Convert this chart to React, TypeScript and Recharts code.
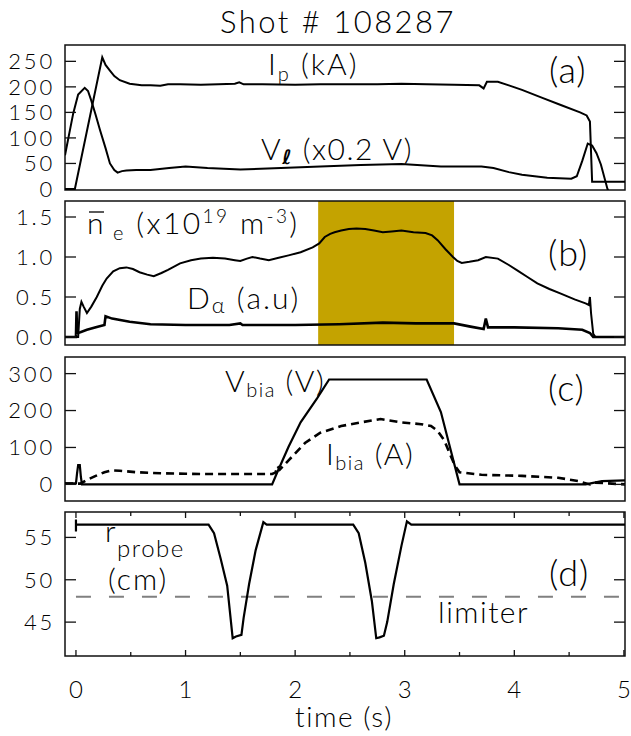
import React from 'react';
import { LineChart, Line, XAxis, YAxis, ReferenceArea, ReferenceLine } from 'recharts';

// ---------- data ----------
const TIME_DOMAIN: [number, number] = [-0.1, 5.01];
const TIME_TICKS = [0, 0.5, 1, 1.5, 2, 2.5, 3, 3.5, 4, 4.5, 5];

// (a) plasma current Ip (kA)
const IP_T = [-0.1, -0.01, 0.24, 0.27, 0.31, 0.35, 0.4, 0.49, 0.6, 0.68, 0.77, 0.84, 0.95, 1.14, 1.3, 1.45, 1.49, 1.53, 1.7, 2.0, 2.23, 2.5, 2.75, 2.97, 3.2, 3.45, 3.68, 3.72, 3.75, 3.85, 3.95, 4.07, 4.25, 4.43, 4.6, 4.66, 4.69, 4.71, 4.85, 5.01];
const IP_KA = [0, 0, 258, 243, 232, 221, 213, 206, 203, 203, 202, 205, 205, 204, 205, 206, 209, 205, 205, 204, 205, 205, 205, 206, 205, 204, 203, 197, 210, 210, 203, 194, 179, 164, 150, 144, 132, 14, 14, 14];

// (a) loop voltage Vl (x0.2 V)
const VL_T = [-0.1, -0.06, -0.025, 0.02, 0.08, 0.11, 0.14, 0.18, 0.22, 0.27, 0.31, 0.35, 0.38, 0.42, 0.46, 0.55, 0.68, 0.85, 1.0, 1.2, 1.5, 1.87, 2.23, 2.6, 2.97, 3.33, 3.7, 3.81, 3.95, 4.07, 4.3, 4.52, 4.57, 4.62, 4.67, 4.71, 4.75, 4.79, 4.85, 4.92];
const VL_V = [66, 110, 148, 185, 198, 192, 173, 145, 115, 80, 50, 37, 32, 35, 36, 37, 37, 41, 44, 41, 38, 41, 44, 47, 49, 44, 44, 41, 33, 28, 22, 20, 25, 55, 89, 85, 70, 48, 0, -30];

// (b) line-averaged density (x10^19 m^-3)
const NE_T = [-0.1, 0.02, 0.035, 0.05, 0.07, 0.1, 0.14, 0.19, 0.24, 0.28, 0.34, 0.4, 0.46, 0.52, 0.58, 0.65, 0.71, 0.78, 0.84, 0.95, 1.05, 1.14, 1.25, 1.36, 1.45, 1.5, 1.56, 1.61, 1.68, 1.76, 1.85, 1.94, 2.05, 2.16, 2.22, 2.27, 2.32, 2.36, 2.42, 2.49, 2.56, 2.64, 2.72, 2.8, 2.88, 2.97, 3.08, 3.19, 3.25, 3.3, 3.37, 3.44, 3.48, 3.52, 3.59, 3.67, 3.74, 3.85, 3.95, 4.03, 4.12, 4.21, 4.32, 4.43, 4.55, 4.65, 4.68, 4.69, 4.7, 4.72, 4.74, 5.01];
const NE_V = [0, 0, 0.35, 0.44, 0.38, 0.3, 0.38, 0.5, 0.64, 0.73, 0.82, 0.86, 0.87, 0.85, 0.81, 0.78, 0.76, 0.8, 0.84, 0.92, 0.96, 0.98, 0.99, 0.98, 0.96, 0.95, 0.98, 1.0, 0.98, 0.96, 0.99, 1.02, 1.06, 1.12, 1.17, 1.25, 1.29, 1.31, 1.33, 1.35, 1.355, 1.35, 1.33, 1.31, 1.32, 1.33, 1.31, 1.3, 1.27, 1.21, 1.1, 1.0, 0.95, 0.925, 0.94, 0.96, 1.0, 0.98, 0.9, 0.83, 0.75, 0.67, 0.6, 0.54, 0.47, 0.42, 0.4, 0.5, 0.3, 0.04, 0, 0];

// (b) D-alpha (a.u)
const DA_T = [-0.1, 0.0, 0.005, 0.01, 0.04, 0.1, 0.19, 0.26, 0.27, 0.33, 0.49, 0.68, 1.0, 1.4, 1.5, 1.52, 2.0, 2.4, 2.8, 3.1, 3.45, 3.6, 3.72, 3.74, 3.76, 4.0, 4.4, 4.62, 4.69, 4.72, 5.01];
const DA_V = [0, 0, 0.32, 0.05, 0.06, 0.09, 0.125, 0.15, 0.26, 0.23, 0.19, 0.16, 0.15, 0.15, 0.17, 0.15, 0.15, 0.16, 0.18, 0.17, 0.17, 0.13, 0.1, 0.23, 0.12, 0.12, 0.11, 0.09, 0.05, 0, 0];

// biasing window (shaded)
const BIAS_WINDOW: [number, number] = [2.21, 3.45];

// (c) bias voltage (V)
const VBIA_T = [-0.1, 0.0, 0.01, 0.02, 0.035, 0.045, 0.055, 1.79, 1.83, 1.94, 2.05, 2.2, 2.31, 3.2, 3.33, 3.5, 4.65, 4.8, 5.01];
const VBIA_V = [3, 3, 30, 52, 52, 20, 0, 0, 28, 102, 168, 233, 284, 284, 196, 0, 0, 9, 11];

// (c) bias current (A)
const IBIA_T = [-0.1, 0.04, 0.1, 0.18, 0.26, 0.33, 0.4, 0.55, 0.77, 1.0, 1.14, 1.5, 1.79, 1.82, 1.84, 1.86, 1.94, 2.09, 2.23, 2.42, 2.6, 2.78, 2.97, 3.15, 3.24, 3.3, 3.36, 3.41, 3.46, 3.5, 3.7, 4.07, 4.4, 4.58, 4.69, 4.73, 5.01];
const IBIA_V = [2, 2, 12, 23, 33, 38, 37, 33, 30, 29, 28, 28, 28, 32, 50, 40, 65, 112, 140, 158, 168, 177, 168, 163, 158, 145, 120, 84, 50, 33, 26, 23, 18, 9, 0, 5, 0];

// (d) probe radius (cm)
const RP_T = [0, 0, 0, 1.21, 1.26, 1.32, 1.38, 1.43, 1.46, 1.51, 1.53, 1.58, 1.64, 1.71, 1.74, 2.53, 2.58, 2.64, 2.7, 2.74, 2.77, 2.81, 2.84, 2.9, 2.97, 3.02, 3.06, 5.01];
const RP_CM = [57.1, 55.7, 56.5, 56.5, 55.5, 52.5, 49.3, 43.1, 43.3, 43.5, 45.5, 49.5, 53.5, 56.8, 56.5, 56.5, 55.5, 52.0, 47.5, 43.1, 43.2, 43.4, 45.0, 49.5, 54.0, 56.9, 56.5, 56.5];
const LIMITER_CM = 48;

const zip = (ts: number[], vs: number[]) => ts.map((t, i) => ({ t, v: vs[i] }));

// ---------- styling ----------
const FONT = "Lato, 'DejaVu Sans', sans-serif";
const W = 631;
const PLOT_RIGHT = 625;
const YAXIS_W = 65;
const M = 14;
const INK = '#111';

const yTick = (fmt: (v: number) => string, zeroLift = 0, skipZeroLine = false) => (props: any) => {
  const { x, y, payload } = props;
  const v = payload.value as number;
  const drawLine = !(skipZeroLine && v === 0);
  return (
    <g>
      {drawLine && <line x1={x} x2={x + 11} y1={y} y2={y} stroke={INK} strokeWidth={1.3} />}
      {drawLine && <line x1={PLOT_RIGHT - 11} x2={PLOT_RIGHT} y1={y} y2={y} stroke={INK} strokeWidth={1.3} />}
      <text x={x - 10} y={y - (v === 0 ? zeroLift : 0)} dy="0.36em" textAnchor="end" fontFamily={FONT} fontWeight={300} fontSize={22} letterSpacing={2.8} fill="#000">
        {fmt(v)}
      </text>
    </g>
  );
};

const xTick = (showLabels: boolean) => (props: any) => {
  const { x, y, payload } = props;
  const v = payload.value as number;
  const major = Number.isInteger(v);
  const len = major ? 6 : 4;
  return (
    <g>
      <line x1={x} x2={x} y1={y} y2={y - len} stroke={INK} strokeWidth={1.3} />
      <line x1={x} x2={x} y1={M} y2={M + len} stroke={INK} strokeWidth={1.3} />
      {showLabels && major && (
        <text x={x} y={y + 33} dy="0.36em" textAnchor="middle" fontFamily={FONT} fontWeight={300} fontSize={24} fill="#000">
          {v}
        </text>
      )}
    </g>
  );
};

type PanelProps = {
  top: number;
  plotH: number;
  yDomain: [number, number];
  yTicks: number[];
  fmt: (v: number) => string;
  zeroLift?: number;
  skipZeroLine?: boolean;
  bottomAxis?: boolean;
  children?: React.ReactNode;
};

const Panel = ({ top, plotH, yDomain, yTicks, fmt, zeroLift = 0, skipZeroLine = false, bottomAxis = false, children }: PanelProps) => {
  const xh = bottomAxis ? 50 : 0;
  const h = plotH + 2 * M + xh;
  return (
    <div style={{ position: 'absolute', left: 0, top: top - M, width: W, height: h }}>
      <LineChart width={W} height={h} margin={{ top: M, right: W - PLOT_RIGHT, bottom: M, left: 0 }}>
        <XAxis
          type="number"
          dataKey="t"
          domain={TIME_DOMAIN}
          allowDataOverflow
          ticks={TIME_TICKS}
          interval={0}
          height={xh}
          axisLine={false}
          tickLine={false}
          tickSize={0}
          tickMargin={0}
          tick={xTick(bottomAxis)}
        />
        <YAxis
          type="number"
          domain={yDomain}
          allowDataOverflow
          ticks={yTicks}
          interval={0}
          width={YAXIS_W}
          axisLine={false}
          tickLine={false}
          tickSize={0}
          tickMargin={0}
          tick={yTick(fmt, zeroLift, skipZeroLine)}
        />
        {children}
        <ReferenceArea
          x1={TIME_DOMAIN[0]}
          x2={TIME_DOMAIN[1]}
          y1={yDomain[0]}
          y2={yDomain[1]}
          fill="none"
          stroke={INK}
          strokeWidth={1.5}
          ifOverflow="visible"
        />
      </LineChart>
    </div>
  );
};

const lineProps = {
  type: 'linear' as const,
  dataKey: 'v',
  dot: false,
  isAnimationActive: false,
  stroke: '#000',
  strokeWidth: 2,
};

const TXT = { fontFamily: FONT, fontWeight: 300, fill: '#000' } as const;

export default function App() {
  return (
    <div style={{ position: 'absolute', left: 0, top: 0, width: W, height: 736, background: '#fff', overflow: 'hidden' }}>
      {/* (a) */}
      <Panel top={45} plotH={145} yDomain={[-2, 282]} yTicks={[0, 50, 100, 150, 200, 250]} fmt={(v) => String(v)} zeroLift={0} skipZeroLine>
        <Line {...lineProps} data={zip(VL_T, VL_V)} />
        <Line {...lineProps} data={zip(IP_T, IP_KA)} />
      </Panel>

      {/* (b) */}
      <Panel top={201} plotH={144} yDomain={[-0.1, 1.7]} yTicks={[0, 0.5, 1, 1.5]} fmt={(v) => v.toFixed(1)}>
        <ReferenceArea x1={BIAS_WINDOW[0]} x2={BIAS_WINDOW[1]} y1={-0.1} y2={1.7} fill="#C4A300" fillOpacity={1} stroke="none" />
        <Line {...lineProps} data={zip(DA_T, DA_V)} strokeWidth={2.6} />
        <Line {...lineProps} data={zip(NE_T, NE_V)} />
      </Panel>

      {/* (c) */}
      <Panel top={357} plotH={144} yDomain={[-45, 345]} yTicks={[0, 100, 200, 300]} fmt={(v) => String(v)}>
        <Line {...lineProps} data={zip(IBIA_T, IBIA_V)} strokeWidth={2.6} strokeDasharray="8 5" />
        <Line {...lineProps} data={zip(VBIA_T, VBIA_V)} strokeWidth={2.2} />
      </Panel>

      {/* (d) */}
      <Panel top={512} plotH={144} yDomain={[41, 58]} yTicks={[45, 50, 55]} fmt={(v) => String(v)} bottomAxis>
        <ReferenceLine
          segment={[{ x: 0, y: LIMITER_CM }, { x: TIME_DOMAIN[1], y: LIMITER_CM }]}
          stroke="#808080"
          strokeWidth={2}
          strokeDasharray="15 18"
        />
        <Line {...lineProps} data={zip(RP_T, RP_CM)} strokeWidth={2.2} />
      </Panel>

      {/* annotations */}
      <svg width={W} height={736} style={{ position: 'absolute', left: 0, top: 0, pointerEvents: 'none' }}>
        <text x={338} y={33} textAnchor="middle" fontSize={31} letterSpacing={2.5} {...TXT}>Shot # 108287</text>

        <text x={268} y={75} fontSize={30} letterSpacing={2} {...TXT}>
          I<tspan fontSize={20} dy={6}>p</tspan>
          <tspan dy={-6}>{' (kA)'}</tspan>
        </text>
        <text x={261} y={160} fontSize={30} letterSpacing={1.5} {...TXT}>
          V<tspan fontSize={20} dy={4} fontStyle="italic" fontWeight={700} fontFamily="'DejaVu Sans', sans-serif">ℓ</tspan>
          <tspan dy={-4}>{' (x0.2 V)'}</tspan>
        </text>
        <text x={549} y={70} dy="0.36em" fontSize={36} letterSpacing={1} {...TXT}>(a)</text>

        <line x1={89} x2={104} y1={212} y2={212} stroke="#000" strokeWidth={1.3} />
        <text x={87} y={234} fontSize={30} letterSpacing={2.4} {...TXT}>
          n<tspan fontSize={20} dx={7} dy={6}>e</tspan>
          <tspan dy={-6}>{' (x10'}</tspan>
          <tspan fontSize={19} dy={-11}>19</tspan>
          <tspan dy={11}>{' m'}</tspan>
          <tspan fontSize={19} dy={-11}>-3</tspan>
          <tspan dy={11}>)</tspan>
        </text>
        <text x={187} y={309} fontSize={30} letterSpacing={2} {...TXT}>
          D<tspan fontSize={22} dy={4}>α</tspan>
          <tspan dy={-4}>{' (a.u)'}</tspan>
        </text>
        <text x={548} y={253} dy="0.36em" fontSize={36} letterSpacing={1} {...TXT}>(b)</text>

        <text x={225} y={392} fontSize={30} letterSpacing={1.5} {...TXT}>
          V<tspan fontSize={20} dy={5}>bia</tspan>
          <tspan dy={-5}>{'  (V)'}</tspan>
        </text>
        <text x={326} y={465} fontSize={30} letterSpacing={1.5} {...TXT}>
          I<tspan fontSize={20} dy={5}>bia</tspan>
          <tspan dy={-5}>{'  (A)'}</tspan>
        </text>
        <text x={548} y={388} dy="0.36em" fontSize={36} letterSpacing={1} {...TXT}>(c)</text>

        <text x={105} y={542} fontSize={30} letterSpacing={1.5} {...TXT}>
          r<tspan fontSize={24} dy={15}>probe</tspan>
        </text>
        <text x={108} y={590} fontSize={30} letterSpacing={2} {...TXT}>(cm)</text>
        <text x={438} y={623} fontSize={30} letterSpacing={1.5} {...TXT}>limiter</text>
        <text x={549} y={573} dy="0.36em" fontSize={36} letterSpacing={1} {...TXT}>(d)</text>

        <text x={344} y={727} textAnchor="middle" fontSize={28} letterSpacing={1.5} {...TXT}>time (s)</text>
      </svg>
    </div>
  );
}
